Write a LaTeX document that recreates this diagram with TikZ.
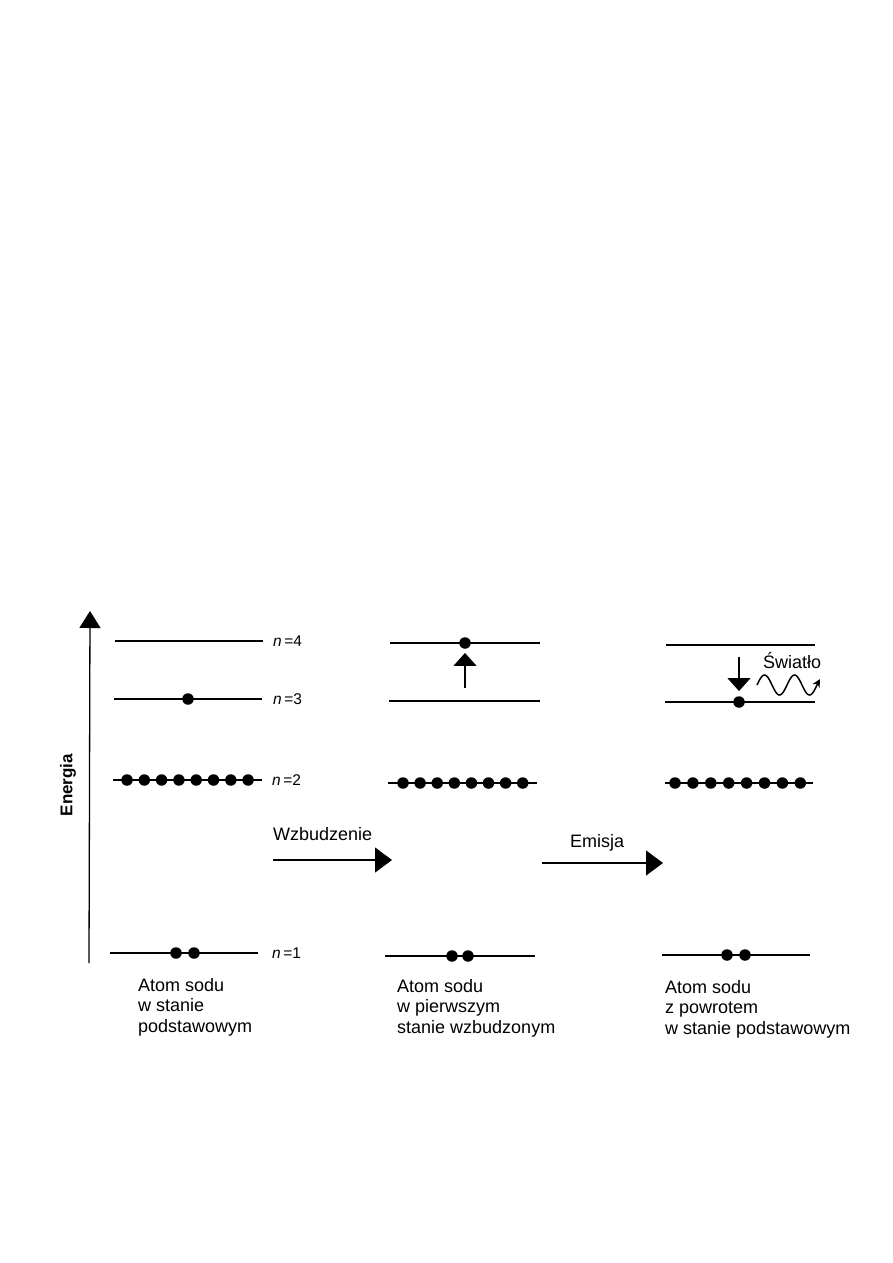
\documentclass[tikz,border=0pt]{standalone}
\usepackage{fontspec}
\setmainfont{Liberation Sans}
\usetikzlibrary{arrows.meta, positioning}

\begin{document}
\begin{tikzpicture}[x=1pt, y=-1pt,
  lvl/.style={line width=1.1pt, black},
  el/.style={circle, fill=black, inner sep=0pt, minimum size=11.5pt},
  nlab/.style={anchor=west, inner sep=0pt, font=\fontsize{15.5}{16}\selectfont},
  captxt/.style={anchor=north west, inner sep=0pt, align=left,
              font=\fontsize{18}{20.5}\selectfont},
  txt/.style={anchor=base west, inner sep=0pt, font=\fontsize{18}{20}\selectfont},
  axarr/.style={-{Triangle[length=17pt, width=21pt]}, line width=1.3pt},
  smarr/.style={-{Triangle[length=13pt, width=23pt]}, line width=1.1pt},
  bigarr/.style={-{Triangle[length=17pt, width=25pt]}, line width=1.1pt}
]
\useasboundingbox (0,0) rectangle (893,1263);
%% energy axis
\coordinate (e0) at (89,963);
\coordinate (e1) at (90,611);
\draw[axarr] (e0) -- (e1);
\node[rotate=90, font=\fontsize{17}{17}\selectfont\bfseries] (energ) at (68,785) {Energia};
%% COLUMN 1: ground state
\coordinate (a4w) at (115,641); \coordinate (a4e) at (263,641);
\coordinate (a3w) at (114,699); \coordinate (a3e) at (262,699);
\coordinate (a2w) at (113,780); \coordinate (a2e) at (262,780);
\coordinate (a1w) at (110,953); \coordinate (a1e) at (258,953);
\foreach \n in {1,...,4} \draw[lvl] (a\n w) -- (a\n e);
\node[el] (a3) at (188,699) {};
\foreach \k in {0,...,7} \node[el] (a2\k) at ({127+17.3*\k},780) {};
\node[el] (a1l) at (176,953) {};
\node[el] (a1r) at (194,953) {};
\node[nlab] (n4) at (273,641) {\textit{n}\,=4};
\node[nlab] (n3) at (273,699) {\textit{n}\,=3};
\node[nlab] (n2) at (272,780) {\textit{n}\,=2};
\node[nlab] (n1) at (272,953) {\textit{n}\,=1};
\node[captxt] (capa) at (138,978) {Atom sodu\\w stanie\\podstawowym};
%% COLUMN 2: excited state
\coordinate (b4w) at (390,643); \coordinate (b4e) at (540,643);
\coordinate (b3w) at (389,701); \coordinate (b3e) at (540,701);
\coordinate (b2w) at (388,783); \coordinate (b2e) at (537,783);
\coordinate (b1w) at (385,956); \coordinate (b1e) at (535,956);
\foreach \n in {1,...,4} \draw[lvl] (b\n w) -- (b\n e);
\node[el] (b4) at (465,643) {};
\foreach \k in {0,...,7} \node[el] (b2\k) at ({403+17.1*\k},783) {};
\node[el] (b1l) at (452,956) {};
\node[el] (b1r) at (468,956) {};
\coordinate (up0) at (465,688);
\draw[smarr] (up0) -- ([yshift=-4pt]b4.south);
\node[captxt] (capb) at (397,979) {Atom sodu\\w pierwszym\\stanie wzbudzonym};
%% COLUMN 3: back to ground state
\coordinate (c4w) at (666,645); \coordinate (c4e) at (815,645);
\coordinate (c3w) at (665,702); \coordinate (c3e) at (815,702);
\coordinate (c2w) at (665,783); \coordinate (c2e) at (813,783);
\coordinate (c1w) at (662,955); \coordinate (c1e) at (810,955);
\foreach \n in {1,...,4} \draw[lvl] (c\n w) -- (c\n e);
\node[el] (c3) at (739,702) {};
\foreach \k in {0,...,7} \node[el] (c2\k) at ({675+17.9*\k},783) {};
\node[el] (c1l) at (727,955) {};
\node[el] (c1r) at (745,955) {};
\coordinate (dn0) at (739,657);
\draw[smarr] (dn0) -- ([yshift=5pt]c3.north);
\node[txt] (light) at (763,668) {Światło};
\draw[-{Stealth[length=8pt, width=8pt]}, line width=1.5pt]
  plot[domain=757:820, samples=80, smooth] (\x,{685-10*sin(12*(\x-757))});
\node[captxt] (capc) at (665,980) {Atom sodu\\z powrotem\\w stanie podstawowym};
%% transitions
\coordinate (wz0) at (273,860); \coordinate (wz1) at (392,860);
\draw[bigarr] (wz0) -- (wz1);
\node[txt] (wzb) at (273,840) {Wzbudzenie};
\coordinate (em0) at (542,863); \coordinate (em1) at (663,863);
\draw[bigarr] (em0) -- (em1);
\node[txt] (emi) at (570,847) {Emisja};
\end{tikzpicture}
\end{document}
